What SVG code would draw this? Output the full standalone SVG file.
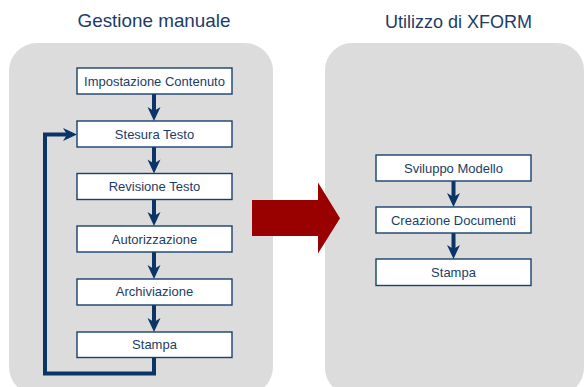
<svg xmlns="http://www.w3.org/2000/svg" width="585" height="387" viewBox="0 0 585 387">
  <style>
    .panel { fill: #dcdcdc; }
    .title { font-family: "Liberation Sans", Arial, sans-serif; font-size: 18.5px; fill: #1c3d66; text-anchor: middle; }
    .box rect { fill: #ffffff; stroke: #17406e; stroke-width: 1.4; }
    .box text { font-family: "Liberation Sans", Arial, sans-serif; font-size: 13px; fill: #1c3d66; text-anchor: middle; }
    .conn line, .conn polyline { stroke: #0b3566; stroke-width: 4; fill: none; }
    .conn path { fill: #0b3566; stroke: none; }
  </style>
  <rect width="585" height="387" fill="#ffffff"/>

  <g id="panel-left">
    <rect class="panel" x="9" y="43" width="264" height="352" rx="28" ry="28"/>
    <text class="title" x="154" y="27" textLength="153" lengthAdjust="spacingAndGlyphs">Gestione manuale</text>
  </g>
  <g id="panel-right">
    <rect class="panel" x="325" y="43" width="259" height="352" rx="27" ry="27"/>
    <text class="title" x="458.5" y="28" textLength="147" lengthAdjust="spacingAndGlyphs">Utilizzo di XFORM</text>
  </g>

  <g id="big-arrow">
    <path d="M252,200 L318,200 L318,182.5 L340,218.3 L318,253.5 L318,236 L252,236 Z" fill="#990000"/>
  </g>

  <g class="conn" id="connectors">
    <!-- left column -->
    <line x1="154" y1="94" x2="154" y2="112"/>
    <path d="M147.5,107 L154,111 L160.5,107 L154,121 Z"/>
    <line x1="154" y1="147" x2="154" y2="164"/>
    <path d="M147.5,159.5 L154,163.5 L160.5,159.5 L154,173.5 Z"/>
    <line x1="154" y1="199" x2="154" y2="217"/>
    <path d="M147.5,212 L154,216 L160.5,212 L154,226 Z"/>
    <line x1="154" y1="252" x2="154" y2="270"/>
    <path d="M147.5,265 L154,269 L160.5,265 L154,279 Z"/>
    <line x1="154" y1="305" x2="154" y2="323"/>
    <path d="M147.5,318 L154,322 L160.5,318 L154,332 Z"/>
    <!-- loop back -->
    <polyline points="154,357 154,373.5 45,373.5 45,134.5 68,134.5"/>
    <path d="M63,128 L67,134.5 L63,141 L77,134.5 Z"/>
    <!-- right column -->
    <line x1="453.5" y1="181" x2="453.5" y2="198"/>
    <path d="M447,193 L453.5,197 L460,193 L453.5,207 Z"/>
    <line x1="453.5" y1="233" x2="453.5" y2="250"/>
    <path d="M447,245 L453.5,249 L460,245 L453.5,259 Z"/>
  </g>

  <g id="impostazione" class="box">
    <rect x="77" y="68" width="155" height="26"/>
    <text x="154.5" y="85.5">Impostazione Contenuto</text>
  </g>
  <g id="stesura" class="box">
    <rect x="77" y="121" width="155" height="26"/>
    <text x="154.5" y="138.5">Stesura Testo</text>
  </g>
  <g id="revisione" class="box">
    <rect x="77" y="173.5" width="155" height="26"/>
    <text x="154.5" y="191">Revisione Testo</text>
  </g>
  <g id="autorizzazione" class="box">
    <rect x="77" y="226" width="155" height="26"/>
    <text x="154.5" y="243.5">Autorizzazione</text>
  </g>
  <g id="archiviazione" class="box">
    <rect x="77" y="279" width="155" height="26"/>
    <text x="154.5" y="296">Archiviazione</text>
  </g>
  <g id="stampa-left" class="box">
    <rect x="77" y="332" width="155" height="25.5"/>
    <text x="154.5" y="349">Stampa</text>
  </g>

  <g id="sviluppo" class="box">
    <rect x="376" y="155" width="155" height="26"/>
    <text x="453.5" y="172.5">Sviluppo Modello</text>
  </g>
  <g id="creazione" class="box">
    <rect x="376" y="207" width="155" height="26"/>
    <text x="453.5" y="224.5">Creazione Documenti</text>
  </g>
  <g id="stampa-right" class="box">
    <rect x="376" y="259" width="155" height="26.5"/>
    <text x="453.5" y="276.5">Stampa</text>
  </g>
</svg>
